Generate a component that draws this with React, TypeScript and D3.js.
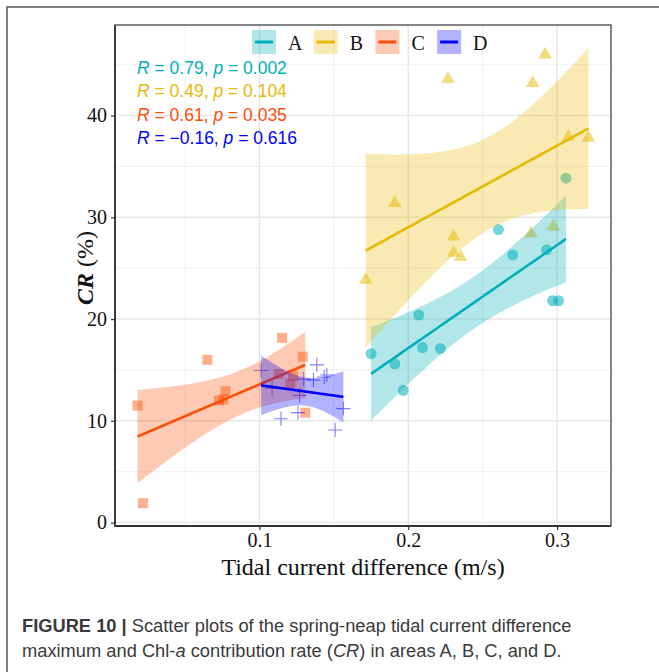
import React, { useRef, useEffect } from "react";
import * as d3 from "d3";

// tidal current difference (m/s) and CR (%) per area
const xA = [0.175, 0.191, 0.1966, 0.2071, 0.2096, 0.2216, 0.2606, 0.2702, 0.293, 0.297, 0.301, 0.306];
const yA = [16.6, 15.6, 13.0, 20.4, 17.2, 17.1, 28.8, 26.3, 26.8, 21.8, 21.8, 33.85];
const xB = [0.1714, 0.191, 0.2267, 0.2305, 0.2305, 0.2352, 0.2825, 0.2836, 0.2919, 0.2975, 0.3075, 0.3211];
const yB = [23.85, 31.4, 43.6, 28.1, 26.5, 26.1, 28.4, 43.2, 46.0, 29.1, 37.9, 37.8];
const xC = [0.0181, 0.0217, 0.065, 0.0772, 0.0728, 0.0757, 0.1152, 0.1292, 0.1129, 0.1226, 0.1207, 0.1308];
const yC = [11.5, 1.9, 16.0, 12.9, 12.0, 12.1, 18.15, 16.3, 14.6, 14.4, 13.65, 10.8];
const xD = [0.1011, 0.1085, 0.1386, 0.1297, 0.1363, 0.1453, 0.1435, 0.127, 0.1145, 0.1259, 0.1564, 0.1509];
const yD = [14.95, 13.2, 15.5, 14.1, 14.0, 14.5, 14.3, 12.5, 10.2, 10.8, 11.2, 9.1];

const groups = ["A", "B", "C", "D"];
const colors = ["#00AFBB", "#E7B800", "#FC4E07", "#0000FF"];
const rValues = ["0.79", "0.49", "0.61", "\u22120.16"];
const pValues = ["0.002", "0.104", "0.035", "0.616"];
const xTicks = [0.1, 0.2, 0.3];
const yTicks = [0, 10, 20, 30, 40];

const W = 659;
const H = 672;
const panel = { left: 115, right: 611, top: 25, bottom: 526 };

// two-sided 95% t quantiles
const tTable: Record<number, number> = { 8: 2.306, 9: 2.262, 10: 2.228, 11: 2.201, 12: 2.179, 13: 2.16, 14: 2.145, 15: 2.131 };

function lmFit(xs: number[], ys: number[]) {
  const n = xs.length;
  const mx = d3.mean(xs)!;
  const my = d3.mean(ys)!;
  const sxx = d3.sum(xs, (x) => (x - mx) ** 2);
  const sxy = d3.sum(xs, (x, i) => (x - mx) * (ys[i] - my));
  const b = sxy / sxx;
  const a = my - b * mx;
  const s = Math.sqrt(d3.sum(xs, (x, i) => (ys[i] - a - b * x) ** 2) / (n - 2));
  const t = tTable[n - 2] ?? 2.2;
  const [lo, hi] = d3.extent(xs) as [number, number];
  return d3.range(80).map((i) => {
    const x = lo + ((hi - lo) * i) / 79;
    const yh = a + b * x;
    const se = s * Math.sqrt(1 / n + (x - mx) ** 2 / sxx);
    return { x, y: yh, lo: yh - t * se, hi: yh + t * se };
  });
}

const series = [
  { xs: xA, ys: yA },
  { xs: xB, ys: yB },
  { xs: xC, ys: yC },
  { xs: xD, ys: yD },
];
const fits = series.map((s) => lmFit(s.xs, s.ys));

const expand = ([a, b]: [number, number]) => [a - (b - a) * 0.05, b + (b - a) * 0.05];
const allX = series.flatMap((s) => s.xs);
const allY = series.flatMap((s) => s.ys).concat(fits.flatMap((f) => f.flatMap((d) => [d.lo, d.hi])));

const x = d3.scaleLinear().domain(expand(d3.extent(allX) as [number, number])).range([panel.left, panel.right]);
const y = d3.scaleLinear().domain(expand(d3.extent(allY) as [number, number])).range([panel.bottom, panel.top]);

const serif = "'Liberation Serif', 'Times New Roman', serif";
const sans = "'Liberation Sans', Arial, sans-serif";

function Marker({ g, cx, cy }: { g: number; cx: number; cy: number }) {
  const c = colors[g];
  if (g === 0) return <circle cx={cx} cy={cy} r={5.5} fill={c} fillOpacity={0.55} />;
  if (g === 1)
    return (
      <path
        d={d3.symbol(d3.symbolTriangle, 80)()!}
        transform={`translate(${cx},${cy})`}
        fill={c}
        fillOpacity={0.5}
      />
    );
  if (g === 2) return <rect x={cx - 5} y={cy - 5} width={10} height={10} fill={c} fillOpacity={0.45} />;
  return (
    <path d={`M${cx - 7},${cy}H${cx + 7}M${cx},${cy - 7}V${cy + 7}`} stroke={c} strokeOpacity={0.5} strokeWidth={1.1} />
  );
}

export default function App() {
  const gx = useRef<SVGGElement>(null);
  const gy = useRef<SVGGElement>(null);

  useEffect(() => {
    const ax = d3.select(gx.current!);
    ax.call(d3.axisBottom(x).tickValues(xTicks).tickSize(4).tickPadding(3).tickFormat(d3.format(".1f")) as any);
    ax.select(".domain").remove();
    ax.selectAll("line").attr("stroke", "#333").attr("stroke-width", 1.2);
    ax.selectAll("text").attr("font-family", serif).attr("font-size", 20).attr("fill", "#111");
    const ay = d3.select(gy.current!);
    ay.call(d3.axisLeft(y).tickValues(yTicks).tickSize(4).tickPadding(4).tickFormat(d3.format("d")) as any);
    ay.select(".domain").remove();
    ay.selectAll("line").attr("stroke", "#333").attr("stroke-width", 1.2);
    ay.selectAll("text").attr("font-family", serif).attr("font-size", 20).attr("fill", "#111");
  }, []);

  const area = d3
    .area<{ x: number; lo: number; hi: number }>()
    .x((d) => x(d.x))
    .y0((d) => y(d.lo))
    .y1((d) => y(d.hi));
  const line = d3
    .line<{ x: number; y: number }>()
    .x((d) => x(d.x))
    .y((d) => y(d.y));

  const minorX = [0.05, 0.15, 0.25];
  const minorY = [5, 15, 25, 35, 45];

  return (
    <svg width={W} height={H} style={{ position: "absolute", left: 0, top: 0, background: "#fff" }}>
      <rect x={7} y={7} width={720} height={720} fill="none" stroke="#555" strokeWidth={1.5} />
      <defs>
        <clipPath id="clip">
          <rect x={panel.left} y={panel.top} width={panel.right - panel.left} height={panel.bottom - panel.top} />
        </clipPath>
      </defs>
      <rect x={panel.left} y={panel.top} width={panel.right - panel.left} height={panel.bottom - panel.top} fill="#fff" />
      {minorX.map((v) => (
        <line key={"mx" + v} x1={x(v)} x2={x(v)} y1={panel.top} y2={panel.bottom} stroke="#ececec" strokeWidth={0.8} />
      ))}
      {minorY.map((v) => (
        <line key={"my" + v} x1={panel.left} x2={panel.right} y1={y(v)} y2={y(v)} stroke="#ececec" strokeWidth={0.8} />
      ))}
      {xTicks.map((v) => (
        <line key={"gx" + v} x1={x(v)} x2={x(v)} y1={panel.top} y2={panel.bottom} stroke="#e6e6e6" strokeWidth={1.5} />
      ))}
      {yTicks.map((v) => (
        <line key={"gy" + v} x1={panel.left} x2={panel.right} y1={y(v)} y2={y(v)} stroke="#e6e6e6" strokeWidth={1.5} />
      ))}

      <g clipPath="url(#clip)">
        {series.map((s, g) => (
          <g key={"pts" + g}>
            {s.xs.map((v, i) => (
              <Marker key={i} g={g} cx={x(v)} cy={y(s.ys[i])} />
            ))}
          </g>
        ))}
        {fits.map((f, g) => (
          <g key={"fit" + g}>
            <path d={area(f)!} fill={colors[g]} fillOpacity={0.3} />
            <path d={line(f)!} fill="none" stroke={colors[g]} strokeWidth={2.6} />
          </g>
        ))}
      </g>

      <rect
        x={panel.left}
        y={panel.top}
        width={panel.right - panel.left}
        height={panel.bottom - panel.top}
        fill="none"
        stroke="#444"
        strokeWidth={1.3}
      />
      <line x1={panel.left} x2={panel.left} y1={panel.top} y2={panel.bottom + 0.6} stroke="#333" strokeWidth={1.8} />
      <line x1={panel.left} x2={panel.right} y1={panel.bottom} y2={panel.bottom} stroke="#333" strokeWidth={1.8} />
      <g ref={gx} transform={`translate(0,${panel.bottom})`} />
      <g ref={gy} transform={`translate(${panel.left},0)`} />

      {/* legend */}
      {groups.map((k, g) => {
        const lx = 252 + g * 61.7;
        return (
          <g key={"leg" + k} transform={`translate(${lx},30)`}>
            <rect width={24} height={24} fill={colors[g]} fillOpacity={0.3} />
            <line x1={3} x2={21} y1={12} y2={12} stroke={colors[g]} strokeWidth={3} />
            <text x={36} y={19.5} fontFamily={serif} fontSize={20} fill="#111">
              {k}
            </text>
          </g>
        );
      })}

      {/* R / p labels */}
      {groups.map((k, g) => (
        <text key={"st" + k} x={137} y={74 + g * 23.3} fontFamily={sans} fontSize={17.5} fill={colors[g]}>
          <tspan fontStyle="italic">R</tspan>
          {` = ${rValues[g]}, `}
          <tspan fontStyle="italic">p</tspan>
          {` = ${pValues[g]}`}
        </text>
      ))}

      {/* axis titles */}
      <text x={(panel.left + panel.right) / 2} y={575} textAnchor="middle" fontFamily={serif} fontSize={24} fill="#111">
        Tidal current difference (m/s)
      </text>
      <text
        transform={`translate(93,268) rotate(-90)`}
        textAnchor="middle"
        fontFamily={serif}
        fontSize={24}
        fill="#111"
      >
        <tspan fontStyle="italic" fontWeight="bold">
          CR
        </tspan>
        {" (%)"}
      </text>

      {/* caption */}
      <text x={22} y={632} fontFamily={sans} fontSize={18.3} fill="#3a3a3a">
        <tspan fontWeight="bold">FIGURE 10 |</tspan>
        {" Scatter plots of the spring-neap tidal current difference"}
      </text>
      <text x={22} y={657} fontFamily={sans} fontSize={18.3} fill="#3a3a3a">
        {"maximum and Chl-"}
        <tspan fontStyle="italic">a</tspan>
        {" contribution rate ("}
        <tspan fontStyle="italic">CR</tspan>
        {") in areas A, B, C, and D."}
      </text>
    </svg>
  );
}
